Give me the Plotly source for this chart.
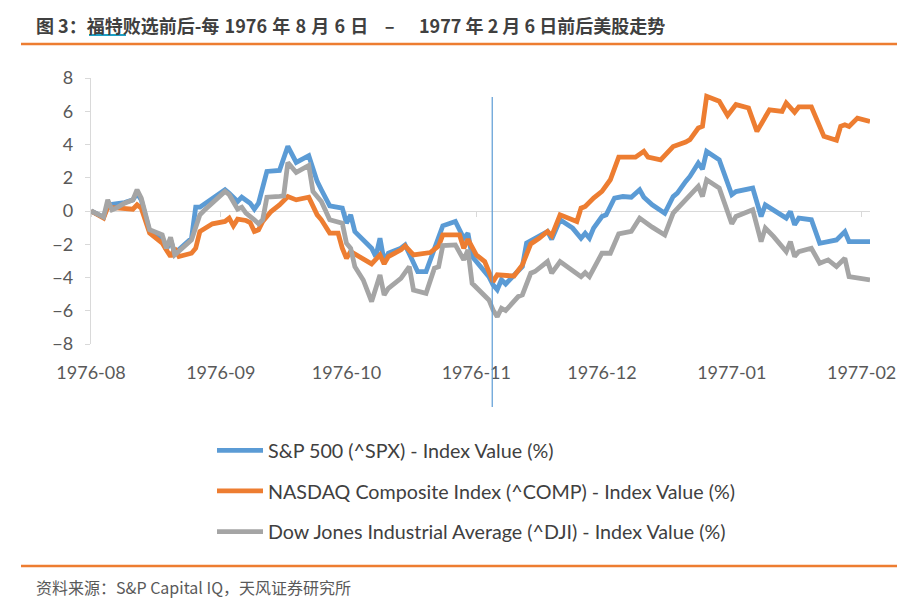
import pandas as pd
import plotly.graph_objects as go

# ---------------- data ----------------
start_date = "1976-08-06"
event_day = 95.8  # vertical marker (days after start)

tick_days = [0, 31, 61, 92, 122, 153, 184]
tick_labels = ["1976-08", "1976-09", "1976-10", "1976-11", "1976-12", "1977-01", "1977-02"]
end_day = 186

spx_days = [0, 3, 4, 6, 8, 10, 11, 12, 14, 17, 18, 19, 20, 24, 25, 26, 28, 32, 33, 35, 36, 38, 39, 40,
            42, 45, 47, 49, 52, 54, 55, 57, 60, 61, 62, 63, 67, 68, 69, 70, 71, 74, 75, 78, 80, 82, 84,
            87, 89, 90, 91, 95, 96, 97, 98, 99, 101, 103, 104, 107, 109, 110, 112, 115, 117, 118, 119,
            120, 122, 123, 125, 127, 129, 131, 132, 134, 137, 139, 140, 142, 143, 145, 146, 147, 150,
            153, 154, 158, 160, 161, 163, 166, 167, 168, 169, 172, 174, 178, 180, 181, 186]
spx_vals = [0.0, -0.37, 0.37, 0.43, 0.51, 0.67, 1.07, 0.67, -1.24, -1.64, -2.34, -1.74, -2.54, -1.64,
            0.23, 0.23, 0.57, 1.28, 1.07, 0.57, 0.83, 0.47, 0.11, 0.47, 2.38, 2.44, 3.89, 2.92, 3.33,
            1.78, 1.28, 0.31, 0.17, -0.73, -0.23, -1.24, -2.24, -2.74, -1.64, -3.04, -2.54, -2.24,
            -2.04, -3.65, -3.65, -2.34, -0.89, -0.63, -1.64, -1.34, -2.74, -3.95, -4.44, -4.74, -4.14,
            -4.39, -3.84, -3.34, -1.93, -1.53, -1.23, -1.70, -0.53, -1.03, -1.64, -1.34, -1.64, -1.03,
            -0.33, -0.23, 0.78, 0.87, 0.83, 1.28, 0.83, 0.37, -0.13, 0.87, 1.08, 1.78, 2.08, 2.88,
            2.52, 3.58, 3.08, 0.98, 1.17, 1.38, -0.33, 0.37, 0.03, -0.43, -0.03, -0.83, -0.43, -0.53,
            -1.94, -1.74, -1.24, -1.84, -1.84]

comp_days = [0, 3, 4, 6, 7, 10, 11, 12, 14, 17, 18, 19, 20, 21, 24, 25, 26, 28, 29, 32, 33, 34, 35, 37,
             38, 39, 40, 41, 43, 45, 47, 49, 52, 54, 55, 57, 59, 60, 61, 62, 64, 67, 69, 70, 71, 74,
             75, 77, 81, 83, 84, 88, 89, 90, 92, 94, 95, 96, 97, 101, 103, 105, 107, 109, 110, 112,
             116, 117, 118, 120, 122, 124, 126, 130, 132, 133, 136, 139, 142, 143, 145, 146, 147, 150,
             152, 154, 157, 159, 162, 165, 166, 168, 169, 172, 175, 178, 179, 180, 181, 183, 186]
comp_vals = [0.0, -0.43, 0.23, 0.17, 0.17, 0.11, 0.37, 0.17, -1.33, -1.93, -2.34, -2.74, -2.24, -2.74,
             -2.54, -2.24, -1.23, -0.93, -0.77, -0.63, -0.43, -0.89, -0.49, -0.57, -0.69, -1.23, -1.13,
             -0.63, -0.03, 0.37, 0.87, 0.67, 0.83, -0.23, -0.53, -1.33, -1.33, -2.24, -2.84, -2.44,
             -2.74, -3.18, -2.64, -3.18, -2.74, -2.34, -2.10, -2.64, -2.50, -2.10, -1.44, -1.44, -2.24,
             -1.70, -2.64, -3.04, -3.65, -4.25, -3.84, -3.91, -3.24, -1.98, -1.64, -1.23, -1.49, -0.23,
             -0.63, 0.17, 0.27, 0.78, 1.18, 1.88, 3.24, 3.24, 3.59, 3.24, 3.08, 3.88, 4.15, 4.29, 4.99,
             5.09, 6.90, 6.60, 5.74, 6.40, 6.20, 4.79, 6.09, 5.99, 6.50, 5.94, 6.26, 6.26, 4.49, 4.25,
             5.09, 5.19, 5.09, 5.59, 5.39]

dji_days = [0, 3, 4, 5, 6, 8, 10, 11, 12, 14, 17, 18, 19, 20, 24, 26, 27, 30, 32, 33, 35, 36, 37, 39,
            40, 41, 42, 45, 46, 47, 49, 52, 53, 55, 57, 60, 61, 62, 63, 65, 67, 69, 70, 71, 74, 76, 77,
            80, 82, 83, 84, 87, 89, 90, 91, 95, 96, 97, 98, 99, 102, 103, 105, 106, 109, 110, 112, 117,
            118, 119, 122, 124, 126, 129, 131, 134, 137, 139, 142, 145, 146, 147, 150, 153, 154, 158,
            160, 161, 163, 166, 167, 168, 169, 172, 174, 176, 178, 180, 181, 186]
dji_vals = [0.0, -0.37, 0.67, 0.07, 0.17, 0.47, 0.67, 1.28, 0.78, -1.13, -1.43, -2.24, -1.58, -2.64,
            -1.74, -0.23, 0.03, 0.78, 1.18, 0.98, 0.11, 0.23, -0.13, -0.53, -0.77, -0.53, 0.83, 0.88,
            0.91, 2.92, 2.32, 2.74, 1.17, 0.57, -0.53, -0.73, -1.94, -2.24, -3.35, -4.15, -5.45, -3.85,
            -5.05, -4.65, -4.05, -3.35, -4.75, -4.95, -3.44, -3.35, -2.08, -2.04, -2.94, -2.34, -4.35,
            -5.35, -5.95, -6.36, -5.85, -5.99, -5.15, -5.05, -3.74, -3.64, -3.04, -3.74, -3.04, -3.95,
            -3.71, -3.95, -2.54, -2.54, -1.37, -1.23, -0.43, -0.97, -1.44, -0.13, 0.67, 1.48, 0.87,
            1.88, 1.38, -0.77, -0.33, 0.07, -1.84, -1.03, -1.54, -2.44, -1.84, -2.74, -2.44, -2.24,
            -3.14, -2.94, -3.34, -2.84, -3.95, -4.15]

series_names = ["S&P 500 (^SPX) - Index Value (%)",
                "NASDAQ Composite Index (^COMP) - Index Value (%)",
                "Dow Jones Industrial Average (^DJI) - Index Value (%)"]
series_colors = ["#5B9BD5", "#ED7D31", "#A5A5A5"]

SP = " \u200a"           # slightly wider word space
GAP = "\u00a0" * 4
title_text = ("<b>图 3：福特败选前后-每" + SP + "1976" + SP + "年" + SP + "8" + SP + "月" + SP +
              "6" + SP + "日" + GAP + "–" + GAP + "\u00a0\u00a0" +
              "1977 年 2 月 6 日前后美股走势</b>")
source_text = "资料来源：S&P Capital IQ，天风证券研究所"

# ---------------- figure ----------------
t0 = pd.Timestamp(start_date)


def to_dates(days):
    return [t0 + pd.Timedelta(days=d) for d in days]


OFF = 8  # page body margin
W, H = 918 - OFF, 604 - OFF
ML, MR, MT, MB = 91 - OFF, 48, 78 - OFF, 260
pw, ph = W - ML - MR, H - MT - MB


def px_x(px):
    return (px - OFF - ML) / pw


def px_y(py):
    return (H - MB - (py - OFF)) / ph


fig = go.Figure()
for days, vals, name, col, grp in [
    (spx_days, spx_vals, series_names[0], series_colors[0], "a"),
    (comp_days, comp_vals, series_names[1], series_colors[1], "b"),
    (dji_days, dji_vals, series_names[2], series_colors[2], "c"),
]:
    fig.add_trace(go.Scatter(x=to_dates(days), y=vals, mode="lines", name=name,
                             legendgroup=grp,
                             line=dict(color=col, width=4.8)))

x_range = [t0, t0 + pd.Timedelta(days=end_day)]
tick_font = dict(family="Lato, sans-serif", size=18, color="#595959")

fig.update_layout(
    width=W, height=H,
    margin=dict(l=ML, r=MR, t=MT, b=MB, autoexpand=False),
    paper_bgcolor="white", plot_bgcolor="white",
    showlegend=True,
    legend=dict(x=px_x(212), y=px_y(431), xanchor="left", yanchor="top",
                font=dict(family="Lato, sans-serif", size=19.7, color="#404040"),
                itemwidth=46, traceorder="grouped", tracegroupgap=12,
                bgcolor="rgba(0,0,0,0)"),
    xaxis=dict(type="date", range=x_range, tickvals=to_dates(tick_days),
               ticktext=tick_labels, showline=False, showgrid=False, zeroline=False,
               ticks="", tickfont=tick_font, ticklabelstandoff=16),
    xaxis2=dict(type="date", range=x_range, overlaying="x", matches="x", anchor="free",
                position=0.5, side="bottom", showline=True, linecolor="#D9D9D9", linewidth=1.3,
                ticks="outside", ticklen=5, tickcolor="#D9D9D9",
                tickvals=to_dates(tick_days),
                showticklabels=False, showgrid=False, zeroline=False, layer="below traces"),
    yaxis=dict(range=[-8, 8], dtick=2, tick0=0, showline=True, linecolor="#D9D9D9", linewidth=1.3,
               ticks="outside", ticklen=5, tickcolor="#D9D9D9", showgrid=False, zeroline=False,
               tickfont=tick_font, ticklabelstandoff=8, layer="below traces"),
)

# invisible trace so xaxis2 is drawn
fig.add_trace(go.Scatter(x=x_range, y=[0, 0], xaxis="x2", mode="lines",
                         line=dict(width=0), showlegend=False, hoverinfo="skip"))

event_date = t0 + pd.Timedelta(days=event_day)
fig.add_shape(type="line", xref="x", yref="paper", x0=event_date, x1=event_date,
              y0=px_y(407), y1=px_y(97), line=dict(color="#5B9BD5", width=1.2))

# title and rules
fig.add_annotation(xref="paper", yref="paper", x=px_x(34), y=px_y(25), xanchor="left",
                   yanchor="middle", text=title_text, showarrow=False,
                   font=dict(family="Noto Sans CJK SC, sans-serif", size=18, color="#404040"))
fig.add_shape(type="line", xref="paper", yref="paper", x0=px_x(89), x1=px_x(126),
              y0=px_y(35), y1=px_y(35), line=dict(color="#1E9FC4", width=2))
for ry in (44, 566):
    fig.add_shape(type="line", xref="paper", yref="paper", x0=px_x(21), x1=px_x(897),
                  y0=px_y(ry), y1=px_y(ry), line=dict(color="#ED7D31", width=2.5))
fig.add_annotation(xref="paper", yref="paper", x=px_x(34), y=px_y(587), xanchor="left",
                   yanchor="middle", text=source_text, showarrow=False,
                   font=dict(family="Noto Sans CJK SC, sans-serif", size=16, color="#595959"))

fig.write_html("out.html")
